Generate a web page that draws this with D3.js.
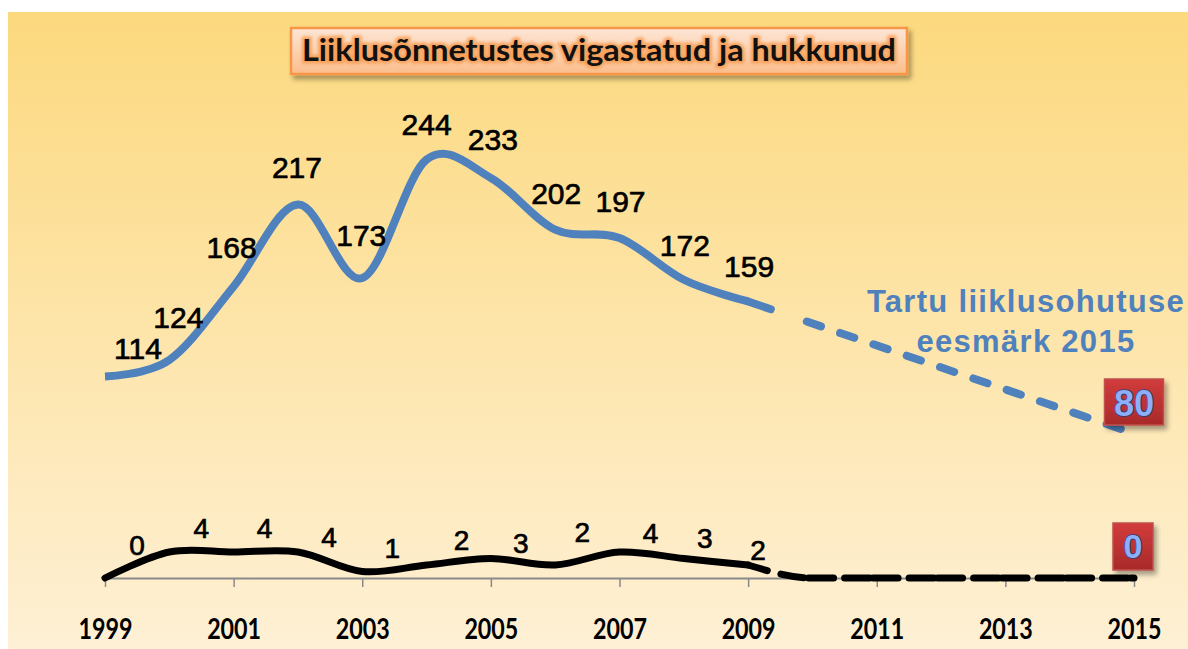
<!DOCTYPE html>
<html>
<head>
<meta charset="utf-8">
<script src="https://cdn.jsdelivr.net/npm/d3@7"></script>
<style>
  html, body { margin: 0; padding: 0; background: #fff; }
  svg { display: block; }
</style>
</head>
<body>
<script>
// data
const years = [1999, 2000, 2001, 2002, 2003, 2004, 2005, 2006, 2007, 2008, 2009];
const injured = [114, 124, 168, 217, 173, 244, 233, 202, 197, 172, 159];
const killed = [0, 4, 4, 4, 1, 2, 3, 2, 4, 3, 2];
const goalYears = [2009, 2015];
const goalInjured = [159, 80];
const goalKilledYears = [2009, 2010, 2015];
const goalKilled = [2, 0, 0];
const tickYears = [1999, 2001, 2003, 2005, 2007, 2009, 2011, 2013, 2015];

// label nudges (layout only)
const injuredLabelDx = [33, 9, -2, -1, -1, 0, 2, 1, 1, 1, 1];
const injuredLabelDy = [-18, -32, -28, -27, -32, -25, -28, -26, -26, -24, -24];
const killedLabelDx = [32, 32, 31, 31, 30, 35, 30, 27, 31, 21, 10];
const killedLabelDy = [-23, -14, -14, -5, -14, -15, -6, -23, -9, -11, -5];

const width = 1188;
const height = 649;
const svg = d3.select('body').append('svg').attr('width', width).attr('height', height);
const defs = svg.append('defs');

const bg = defs.append('linearGradient').attr('id', 'bg').attr('x1', 0).attr('y1', 0).attr('x2', 0).attr('y2', 1);
bg.append('stop').attr('offset', '0%').attr('stop-color', '#fcd97e');
bg.append('stop').attr('offset', '100%').attr('stop-color', '#fef0d5');

const titleFill = defs.append('linearGradient').attr('id', 'titleFill').attr('x1', 0).attr('y1', 0).attr('x2', 0).attr('y2', 1);
titleFill.append('stop').attr('offset', '0%').attr('stop-color', '#fde6d6');
titleFill.append('stop').attr('offset', '100%').attr('stop-color', '#fbbd8c');

const redFill = defs.append('linearGradient').attr('id', 'redFill').attr('x1', 0).attr('y1', 0).attr('x2', 0).attr('y2', 1);
redFill.append('stop').attr('offset', '0%').attr('stop-color', '#d23c3c');
redFill.append('stop').attr('offset', '100%').attr('stop-color', '#a82a2a');

const shadow = defs.append('filter').attr('id', 'shadow').attr('x', '-10%').attr('y', '-20%').attr('width', '130%').attr('height', '160%');
shadow.append('feDropShadow').attr('dx', 3).attr('dy', 4).attr('stdDeviation', 2.5).attr('flood-color', '#000').attr('flood-opacity', 0.35);

const glow = defs.append('filter').attr('id', 'glow').attr('x', '-5%').attr('y', '-30%').attr('width', '110%').attr('height', '160%');
glow.append('feGaussianBlur').attr('stdDeviation', 1.5);

svg.append('rect').attr('x', 8).attr('y', 12).attr('width', width - 8).attr('height', height - 12).attr('fill', 'url(#bg)');

const x = d3.scaleLinear().domain([1999, 2015]).range([105, 1134]);
const yInj = d3.scaleLinear().domain([0, 250]).range([567, 149.5]);
const yKil = d3.scaleLinear().domain([0, 4]).range([578, 552]);

// x axis
const axis = svg.append('g').attr('transform', `translate(0,${yKil(0)})`)
  .call(d3.axisBottom(x).tickValues(tickYears).tickFormat(d3.format('d')).tickSize(9).tickSizeOuter(0).tickPadding(42));
axis.select('.domain').attr('stroke', '#8a8a8a').attr('stroke-width', 2);
axis.selectAll('.tick line').attr('stroke', '#8a8a8a').attr('stroke-width', 1.5);
axis.selectAll('.tick text').attr('font-family', 'Lato, sans-serif').attr('font-weight', 'bold')
  .attr('font-size', 29).attr('fill', '#000').attr('dy', '0.35em')
  .attr('textLength', 54).attr('lengthAdjust', 'spacingAndGlyphs');

const smooth = d3.curveCardinal.tension(0);

const lineInj = d3.line().x((d, i) => x(years[i])).y(d => yInj(d)).curve(smooth);
const lineKil = d3.line().x((d, i) => x(years[i])).y(d => yKil(d)).curve(smooth);

// projections (dashed)
const goalInjLine = d3.line().x((d, i) => x(goalYears[i])).y(d => yInj(d));
const injDash = [24, 38].concat(d3.range(12).flatMap(() => [15, 20.2])).join(' ');
svg.append('path').attr('d', goalInjLine(goalInjured)).attr('fill', 'none')
  .attr('stroke', '#4f81bd').attr('stroke-width', 8).attr('stroke-linecap', 'round')
  .attr('stroke-dasharray', injDash);

const goalKilLine = d3.line().x((d, i) => x(goalKilledYears[i])).y(d => yKil(d)).curve(d3.curveMonotoneX);
const kilDash = [20, 14, 23, 5].concat(d3.range(6).flatMap(() => [25, 11, 25, 3.5])).join(' ');
svg.append('path').attr('d', goalKilLine(goalKilled)).attr('fill', 'none')
  .attr('stroke', '#000').attr('stroke-width', 7).attr('stroke-linecap', 'round')
  .attr('stroke-dasharray', kilDash);

svg.append('path').attr('d', lineInj(injured)).attr('fill', 'none')
  .attr('stroke', '#4f81bd').attr('stroke-width', 8).attr('stroke-linecap', 'butt');
svg.append('path').attr('d', lineKil(killed)).attr('fill', 'none')
  .attr('stroke', '#000').attr('stroke-width', 7).attr('stroke-linecap', 'round');

// data labels
svg.append('g').selectAll('text').data(injured).join('text')
  .attr('x', (d, i) => x(years[i]) + injuredLabelDx[i])
  .attr('y', (d, i) => yInj(d) + injuredLabelDy[i])
  .attr('text-anchor', 'middle')
  .attr('font-family', '"Liberation Sans", Arial, sans-serif')
  .attr('font-size', 30).attr('fill', '#000').attr('stroke', '#000').attr('stroke-width', 0.7)
  .text(d => d);

svg.append('g').selectAll('text').data(killed).join('text')
  .attr('x', (d, i) => x(years[i]) + killedLabelDx[i])
  .attr('y', (d, i) => yKil(d) + killedLabelDy[i])
  .attr('text-anchor', 'middle')
  .attr('font-family', '"Liberation Sans", Arial, sans-serif')
  .attr('font-size', 28).attr('fill', '#000').attr('stroke', '#000').attr('stroke-width', 0.7)
  .text(d => d);

// goal note
const note = svg.append('text').attr('text-anchor', 'middle')
  .attr('font-family', '"Liberation Sans", Arial, sans-serif').attr('font-weight', 'bold')
  .attr('font-size', 31).attr('fill', '#4f81bd').attr('letter-spacing', 1.3);
note.append('tspan').attr('x', 1026).attr('y', 312).text('Tartu liiklusohutuse');
note.append('tspan').attr('x', 1026).attr('y', 352).text('eesmärk 2015');

// red target boxes
function targetBox(cx, top, w, h, label, fs, base) {
  svg.append('rect').attr('x', cx - w / 2).attr('y', top).attr('width', w).attr('height', h)
    .attr('fill', 'url(#redFill)').attr('stroke', '#c0504d').attr('stroke-width', 1.5)
    .attr('filter', 'url(#shadow)');
  svg.append('text').attr('x', cx).attr('y', base).attr('text-anchor', 'middle')
    .attr('font-family', '"Liberation Sans", Arial, sans-serif').attr('font-weight', 'bold')
    .attr('font-size', fs).attr('fill', '#8eaef7')
    .attr('stroke', '#2a3f7a').attr('stroke-width', 1.6).attr('paint-order', 'stroke')
    .text(label);
}
targetBox(x(2015), 379, 59, 46, goalInjured[goalInjured.length - 1], 36, 416);
targetBox(x(2015) - 1, 523, 40, 47, goalKilled[goalKilled.length - 1], 34, 558);

// title
const title = svg.append('g');
title.append('rect').attr('x', 291).attr('y', 28).attr('width', 616).attr('height', 46)
  .attr('fill', 'url(#titleFill)').attr('stroke', '#f79646').attr('stroke-width', 2.5)
  .attr('filter', 'url(#shadow)');
const titleText = 'Liiklusõnnetustes vigastatud ja hukkunud';
title.append('text').attr('x', 599).attr('y', 61).attr('text-anchor', 'middle')
  .attr('font-family', 'Lato, sans-serif').attr('font-weight', 'bold').attr('font-size', 30)
  .attr('fill', '#f7a35c').attr('stroke', '#f79646').attr('stroke-width', 5).attr('opacity', 0.8)
  .attr('filter', 'url(#glow)')
  .attr('textLength', 594).attr('lengthAdjust', 'spacingAndGlyphs')
  .text(titleText);
title.append('text').attr('x', 599).attr('y', 61).attr('text-anchor', 'middle')
  .attr('font-family', 'Lato, sans-serif').attr('font-weight', 'bold').attr('font-size', 30)
  .attr('fill', '#111')
  .attr('textLength', 594).attr('lengthAdjust', 'spacingAndGlyphs')
  .text(titleText);
</script>
</body>
</html>
